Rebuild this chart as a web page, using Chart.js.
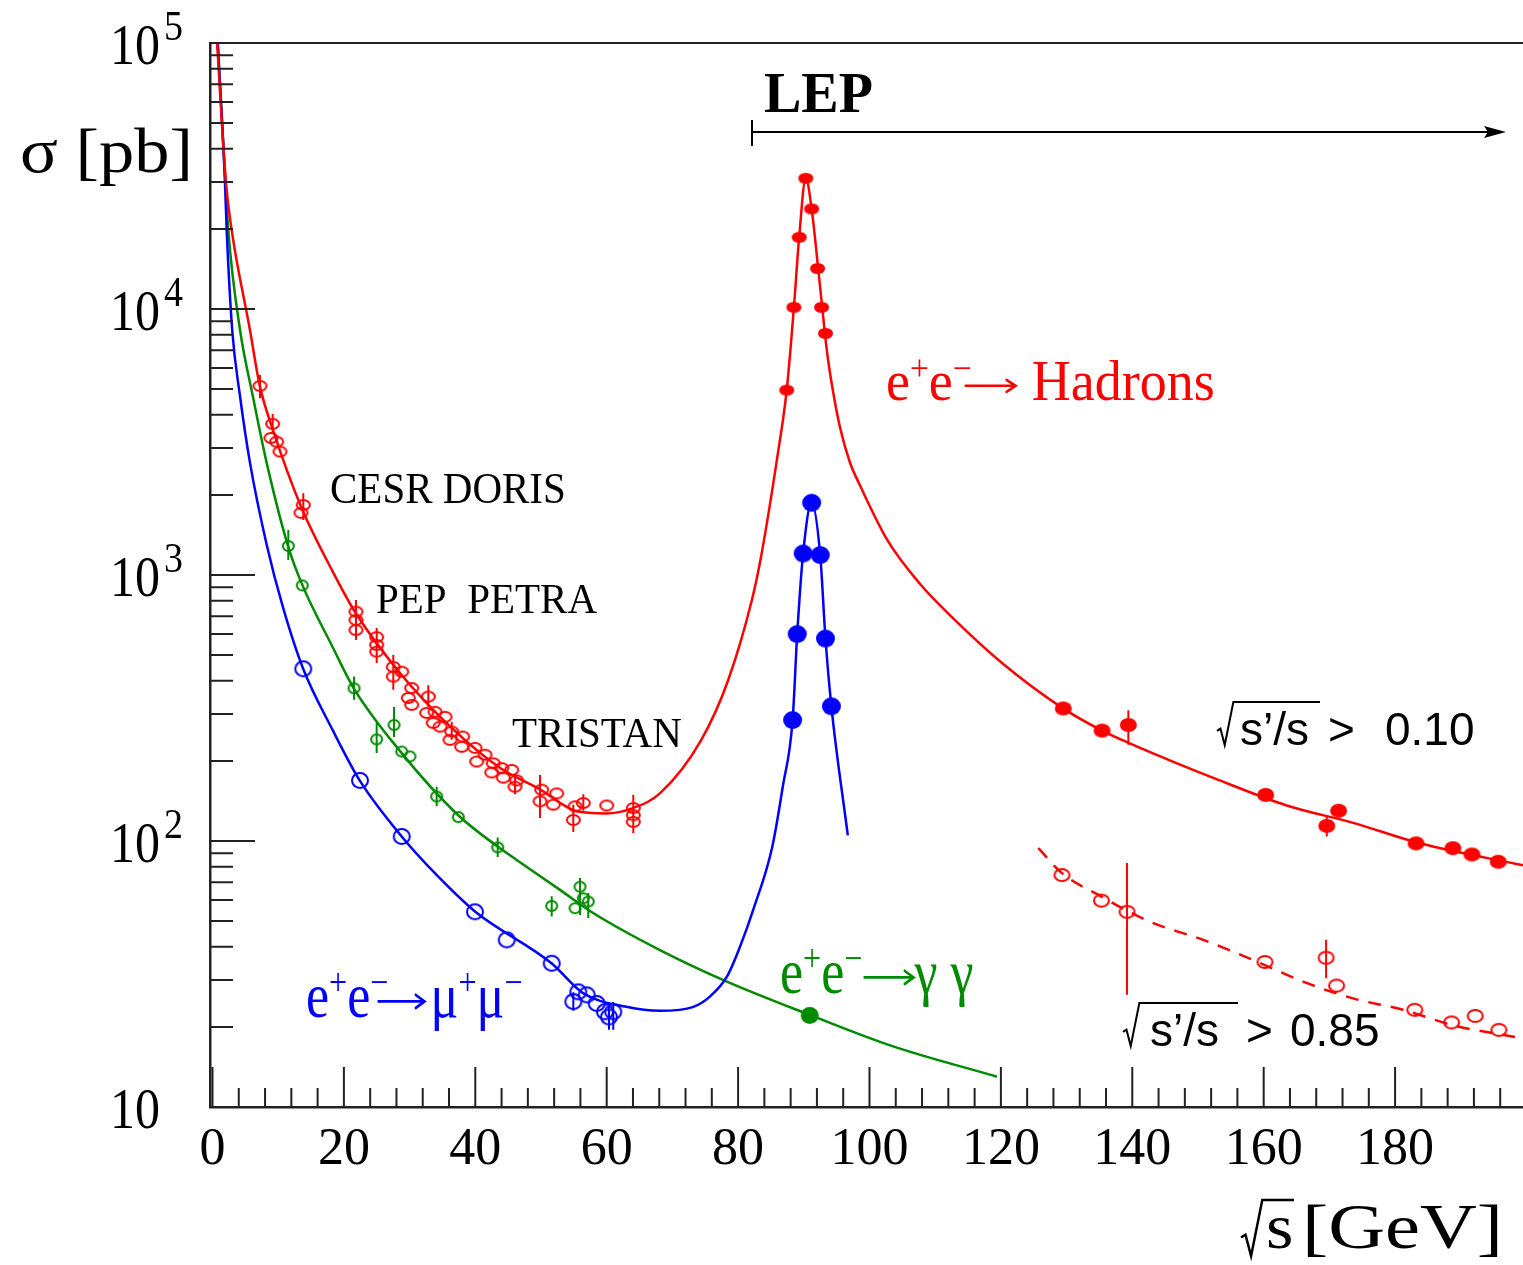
<!DOCTYPE html>
<html><head><meta charset="utf-8">
<script src="https://cdn.jsdelivr.net/npm/chart.js@4/dist/chart.umd.min.js"></script>
<style>html,body{margin:0;padding:0;background:#fff;overflow:hidden}canvas{display:block}</style>
</head><body>
<canvas id="c" width="1523" height="1265"></canvas>
<script>
// ---------------- data ----------------
const xTickLabels = [0,20,40,60,80,100,120,140,160,180];
const yTickValues = [10,100,1000,10000,100000];
const yTickExponents = ['','2','3','4','5'];

// theory curves  [sqrt(s) GeV, sigma pb]
const hadronCurve = [[0.7,100000],[2.05,29800],[2.92,19800],[5.7,8340],[7.2,5140],[9.2,3510],[13.5,1800],[18.3,1030],[21.7,726],[28.5,429],[36.2,269],[43.8,188],[49.9,156],[55.2,130],[59.9,127],[64.0,133],[68.1,151],[74.4,240],[78.5,403],[82.1,805],[83.4,1138],[85.9,2704],[87.4,4955],[88.5,10180],[89.3,18660],[90.3,31000],[91.2,23750],[92.2,14130],[92.8,10180],[93.2,8130],[93.7,6430],[94.5,4820],[95.5,3600],[97.0,2660],[98.6,2160],[102.7,1355],[107.7,925],[112.7,689],[120.4,462],[129.4,316],[135.4,260],[139.6,233],[153.3,169],[163.5,136],[173.6,117],[183.8,98],[199.5,81]];
const hadronCutCurve = [[125.7,94],[129.3,75.7],[135.3,61.8],[139.2,54.7],[143.2,49.1],[150.8,42.5],[158.4,35.7],[166.0,29.6],[173.6,25.6],[181.2,23.2],[188.8,20.3],[199.5,18.1]];
const muCurve = [[0.8,100000],[1.9,29800],[2.16,19800],[3.0,8340],[4.19,4700],[5.71,2640],[8.25,1300],[10.7,760],[13.8,444],[18.3,261],[22.4,169],[28.8,104],[34.0,75],[40.0,54.2],[51.6,34.7],[56.4,26.8],[63.0,23.8],[68.1,23.0],[73.2,23.8],[75.7,26.0],[78.3,30.9],[80.3,40.1],[82.3,55.1],[85.2,95],[86.8,160],[88.3,285],[89.0,600],[89.9,1205],[91.2,1870],[92.5,1189],[93.3,577],[94.2,321],[96.7,105]];
const gammaCurve = [[0.8,100000],[1.98,29800],[2.4,19800],[4.19,8340],[6.16,4680],[8.25,2640],[11.5,1285],[13.7,914],[18.3,535],[21.5,375],[28.8,214],[37.4,125],[43.5,94.9],[46.3,84.9],[52.9,65.5],[58.0,53.5],[68.1,38.9],[78.3,29.6],[90.9,22.2],[103.6,16.9],[119.4,13.0]];

// measurements
const hadronLowData = [[7.23,5140],[9.16,3700],[8.9,3275],[9.77,3170],[10.27,2910],[13.82,1833],[13.47,1714],[21.84,728],[21.84,678],[21.84,621],[24.99,584],[24.99,546],[24.99,515],[27.52,451],[28.8,433],[27.52,415],[30.32,376],[29.8,345],[32.85,349],[30.32,325],[32.6,303],[33.87,306],[35.39,293],[33.6,278],[34.63,269],[36.41,258],[38.08,247],[36.15,240],[37.93,226],[39.95,224],[41.48,211],[40.21,199],[42.74,196],[44.02,188],[45.54,185],[42.5,181],[44.26,173],[46.3,169],[46.04,160],[50.1,156],[52.39,151],[49.85,141],[51.87,137],[55.18,135],[56.44,139],[60.0,136],[54.92,120],[64.05,133],[64.05,125],[64.05,118]];
const hadronZData = [[87.4,4955],[88.5,10150],[89.3,18600],[90.3,31000],[91.2,23800],[92.1,14200],[92.7,10150],[93.3,8100]];
const hadronLep2Data = [[129.5,315],[135.4,260],[139.4,273],[160.3,149],[171.4,130],[169.6,114],[183.2,98],[188.8,94],[191.7,89],[195.7,83.6]];
const hadronCutData = [[129.3,74.5],[135.3,59.7],[139.2,54.2],[160.2,35.1],[169.5,36.4],[171.1,28.6],[183.0,23.2],[188.6,20.8],[192.2,22.0],[195.8,19.5]];
const muLowData = [[13.82,444],[22.45,169],[28.8,104],[39.95,54.2],[44.78,42.5],[51.63,34.7],[55.68,27.1],[54.92,24.9],[56.96,26.4],[58.48,24.5],[59.74,22.8],[61.0,22.8],[60.35,21.8]];
const muZData = [[88.3,285],[89.0,600],[89.9,1205],[91.2,1870],[92.5,1189],[93.3,577],[94.2,321]];
const gammaLowData = [[11.54,1285],[13.67,914],[21.54,375],[24.99,241],[27.63,273],[28.8,217],[30.06,208],[34.12,147],[37.41,123],[43.41,94.6],[51.63,57.0],[55.18,55.9],[55.94,67.3],[56.44,60.9],[57.2,59.2]];
const gammaLepData = [[90.9,22.1]];

// error bars  [sqrt(s), low, high]
const errHadronLow = [[7.23,4620,5650],[9.16,3390,4030],[13.82,1610,2030],[21.84,570,805],[24.99,467,632],[27.52,370,500],[32.85,319,385],[36.41,240,280],[46.04,150,178],[49.85,122,177],[54.92,108,137],[56.44,130,150],[64.05,107,149]];
const errGammaLow = [[11.54,1138,1476],[21.54,340,415],[24.99,214,278],[27.63,246,319],[34.12,135,160],[43.41,87,103],[51.63,52,62],[55.94,52.7,72.6],[57.2,51.4,63.8]];
const errMuLow = [[54.92,23.0,27.0],[60.35,19.5,24.8],[61.0,19.5,24.8]];
const errHadronLep2 = [[139.4,230,310],[169.6,104,123]];
const errHadronCut = [[139.2,26.4,82.6],[169.5,30.5,42.5]];

// ---------------- styling ----------------
const RED = '#ff0000', BLUE = '#0000ff', GREEN = '#008a00';
function mk(w, h, color, filled, lw) {
  lw = lw || 2;
  const pad = Math.ceil(lw) + 1;
  const c = document.createElement('canvas');
  c.width = w + 2 * pad; c.height = h + 2 * pad;
  const g = c.getContext('2d');
  g.beginPath(); g.ellipse(c.width / 2, c.height / 2, w / 2, h / 2, 0, 0, 2 * Math.PI);
  if (filled) { g.fillStyle = color; g.fill(); } else { g.strokeStyle = color; g.lineWidth = lw; g.stroke(); }
  return c;
}
const pts = a => a.map(p => ({x: p[0], y: p[1]}));
function curve(data, color, extra) {
  return Object.assign({data: pts(data), showLine: true, borderColor: color, borderWidth: 2.5,
    pointRadius: 0, cubicInterpolationMode: 'monotone', fill: false, order: 2}, extra || {});
}
function marks(data, img) {
  return {data: pts(data), showLine: false, pointStyle: img, pointRadius: 6, order: 0};
}

function rich(ctx, x, y, parts, o) {
  ctx.save(); ctx.translate(x, y); ctx.scale(o.sx || 1, o.sy || 1);
  const col = o.color || '#000';
  ctx.fillStyle = col; ctx.strokeStyle = col; ctx.textBaseline = 'alphabetic'; ctx.textAlign = 'left';
  let cx = 0;
  for (const p of parts) {
    cx += p.dx || 0;
    if (p.arrow) {
      const ay = -o.size * 0.25, w = p.arrow, hl = o.size * 0.17;
      ctx.lineWidth = o.size * 0.045; ctx.lineCap = 'round';
      ctx.beginPath(); ctx.moveTo(cx, ay); ctx.lineTo(cx + w, ay);
      ctx.moveTo(cx + w - hl, ay - hl * 0.62); ctx.lineTo(cx + w, ay); ctx.lineTo(cx + w - hl, ay + hl * 0.62);
      ctx.stroke();
      cx += w + (p.after || 0);
      continue;
    }
    const fs = p.sup ? o.size * 0.62 : o.size;
    ctx.font = (o.weight || '') + ' ' + fs + 'px ' + o.family;
    ctx.fillText(p.t, cx, p.sup ? -o.size * 0.36 : 0);
    cx += ctx.measureText(p.t).width;
  }
  ctx.restore();
}
function radical(ctx, x, base, h, xEnd, lw) {
  ctx.save(); ctx.strokeStyle = '#000'; ctx.lineWidth = lw || 2; ctx.lineJoin = 'miter';
  ctx.beginPath();
  ctx.moveTo(x, base - 0.33 * h);
  ctx.lineTo(x + 0.08 * h, base - 0.38 * h);
  ctx.lineTo(x + 0.18 * h, base);
  ctx.lineTo(x + 0.38 * h, base - h);
  ctx.lineTo(xEnd, base - h);
  ctx.stroke(); ctx.restore();
}

const deco = {
  id: 'deco',
  beforeDraw(chart) {
    const c = chart.ctx; c.save(); c.fillStyle = '#fff'; c.fillRect(0, 0, chart.width, chart.height); c.restore();
  },
  beforeDatasetsDraw(chart) {
    const c = chart.ctx, xs = chart.scales.x, ys = chart.scales.y;
    const bars = (arr, col) => {
      c.strokeStyle = col; c.lineWidth = 2; c.beginPath();
      for (const e of arr) {
        const px = xs.getPixelForValue(e[0]);
        c.moveTo(px, ys.getPixelForValue(e[1])); c.lineTo(px, ys.getPixelForValue(e[2]));
      }
      c.stroke();
    };
    c.save();
    bars(errHadronLow, RED); bars(errHadronLep2, RED); bars(errHadronCut, RED);
    bars(errGammaLow, GREEN); bars(errMuLow, BLUE);
    c.restore();
  },
  afterDraw(chart) {
    const c = chart.ctx, xs = chart.scales.x, ys = chart.scales.y, a = chart.chartArea;
    c.save();
    c.strokeStyle = '#222'; c.lineWidth = 2;
    // top frame line
    c.beginPath(); c.moveTo(a.left, a.top); c.lineTo(a.right, a.top); c.stroke();
    // y ticks (inward)
    c.beginPath();
    for (let e = 1; e <= 5; e++) {
      const v = Math.pow(10, e), py = ys.getPixelForValue(v);
      c.moveTo(a.left, py); c.lineTo(a.left + 45, py);
      if (e < 5) for (let m = 2; m <= 9; m++) {
        const q = ys.getPixelForValue(m * v);
        c.moveTo(a.left, q); c.lineTo(a.left + 23, q);
      }
    }
    // x ticks (inward)
    for (let v = 0; v <= 196; v += 4) {
      const px = xs.getPixelForValue(v), len = v % 20 === 0 ? 40 : 19;
      c.moveTo(px, a.bottom); c.lineTo(px, a.bottom - len);
    }
    c.stroke();
    // y tick labels with superscripts
    yTickValues.forEach((v, i) => {
      const py = ys.getPixelForValue(v);
      c.save(); c.translate(160, py + 21); c.scale(1, 1.15);
      c.font = '50px "Liberation Serif"'; c.fillStyle = '#000'; c.textAlign = 'right';
      c.fillText('10', 0, 0); c.restore();
      if (yTickExponents[i]) {
        c.save(); c.translate(164, py - 3); c.scale(1, 1.1);
        c.font = '38px "Liberation Serif"'; c.fillStyle = '#000'; c.textAlign = 'left';
        c.fillText(yTickExponents[i], 0, 0); c.restore();
      }
    });
    const serif = '"Liberation Serif"';
    // axis titles
    rich(c, 20, 172, [{t: 'σ [pb]'}], {size: 64, family: serif, sx: 1.1});
    radical(c, 1241, 1256, 56, 1294, 2.5);
    rich(c, 1266, 1248, [{t: 's'}], {size: 64, family: serif, sx: 1.1});
    rich(c, 1302, 1248, [{t: '[GeV]'}], {size: 64, family: serif, sx: 1.23});
    // LEP
    rich(c, 764, 112, [{t: 'LEP'}], {size: 56, family: serif, weight: 'bold'});
    c.strokeStyle = '#000'; c.lineWidth = 2;
    c.beginPath(); c.moveTo(752, 120); c.lineTo(752, 146); c.moveTo(752, 132); c.lineTo(1496, 132); c.stroke();
    c.fillStyle = '#000'; c.beginPath(); c.moveTo(1506, 132); c.lineTo(1484, 126); c.lineTo(1488, 132); c.lineTo(1484, 138); c.closePath(); c.fill();
    // experiment names
    rich(c, 330, 503, [{t: 'CESR DORIS'}], {size: 41, family: serif, sy: 1.08});
    rich(c, 376, 613, [{t: 'PEP  PETRA'}], {size: 41, family: serif, sy: 1.05});
    rich(c, 512, 747, [{t: 'TRISTAN'}], {size: 41, family: serif, sy: 1.05});
    // process labels
    rich(c, 886, 400, [{t: 'e'}, {t: '+', sup: 1}, {t: 'e'}, {t: '−', sup: 1}, {arrow: 50, dx: -6, after: 16}, {t: 'Hadrons'}],
      {size: 54, family: serif, color: RED, sy: 1.05});
    rich(c, 306, 1017, [{t: 'e'}, {t: '+', sup: 1}, {t: 'e'}, {t: '−', sup: 1}, {arrow: 46, dx: -10, after: 6}, {t: 'μ'}, {t: '+', sup: 1}, {t: 'μ'}, {t: '−', sup: 1}],
      {size: 52, family: serif, color: BLUE, sy: 1.2});
    rich(c, 780, 993, [{t: 'e'}, {t: '+', sup: 1}, {t: 'e'}, {t: '−', sup: 1}, {arrow: 49, dx: 2, after: 1}, {t: 'γ'}, {t: ' '}, {t: 'γ'}],
      {size: 52, family: serif, color: GREEN, sy: 1.2});
    // cut labels
    const sans = '"Liberation Sans"';
    radical(c, 1217, 745, 43, 1320, 2);
    rich(c, 1240, 745, [{t: 's’/s'}], {size: 46, family: sans});
    rich(c, 1328, 745, [{t: '>'}], {size: 46, family: sans});
    rich(c, 1385, 745, [{t: '0.10'}], {size: 46, family: sans});
    radical(c, 1123, 1046, 43, 1238, 2);
    rich(c, 1150, 1046, [{t: 's’/s'}], {size: 46, family: sans});
    rich(c, 1246, 1046, [{t: '>'}], {size: 46, family: sans});
    rich(c, 1290, 1046, [{t: '0.85'}], {size: 46, family: sans});
    c.restore();
  }
};

new Chart(document.getElementById('c'), {
  type: 'scatter',
  data: {datasets: [
    curve(hadronCurve, RED),
    curve(hadronCutCurve, RED, {borderDash: [13, 10]}),
    curve(muCurve, BLUE),
    curve(gammaCurve, GREEN),
    marks(hadronLowData, mk(13, 10, RED, false, 2)),
    marks(hadronZData, mk(15, 11, RED, true)),
    marks(hadronLep2Data, mk(17, 14, RED, true)),
    marks(hadronCutData, mk(15, 12, RED, false, 2)),
    marks(muLowData, mk(16, 15, BLUE, false, 2)),
    marks(muZData, mk(19, 18, BLUE, true)),
    marks(gammaLowData, mk(11, 10, GREEN, false, 2)),
    marks(gammaLepData, mk(18, 17, GREEN, true))
  ]},
  options: {
    responsive: false, devicePixelRatio: 1, animation: false,
    layout: {autoPadding: false, padding: {top: 43, right: 0, bottom: 0, left: 0}},
    plugins: {legend: {display: false}, tooltip: {enabled: false}},
    scales: {
      x: {
        type: 'linear', min: -0.38, max: 199.47,
        afterFit: s => { s.height = 158; s.paddingLeft = 0; s.paddingRight = 0; },
        afterBuildTicks: s => { s.ticks = xTickLabels.map(v => ({value: v})); },
        grid: {display: false, drawTicks: false},
        border: {display: true, color: '#222', width: 2.5},
        ticks: {font: {family: 'Liberation Serif', size: 52}, color: '#000', padding: 12, maxRotation: 0, autoSkip: false}
      },
      y: {
        type: 'logarithmic', min: 10, max: 100000,
        afterFit: s => { s.width = 210; s.paddingTop = 0; s.paddingBottom = 0; },
        afterBuildTicks: s => { s.ticks = yTickValues.map(v => ({value: v})); },
        grid: {display: false, drawTicks: false},
        border: {display: true, color: '#222', width: 2.5},
        ticks: {display: false}
      }
    }
  },
  plugins: [deco]
});
</script>
</body></html>
